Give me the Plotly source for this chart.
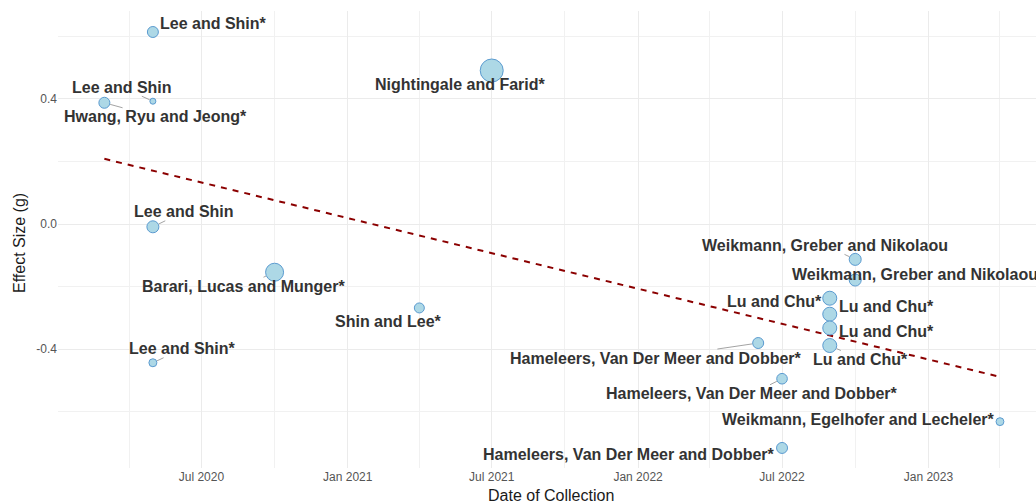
import math
import plotly.graph_objects as go

# ---------------- data ----------------
study_labels = [
    "Lee and Shin*", "Lee and Shin", "Hwang, Ryu and Jeong*", "Nightingale and Farid*",
    "Lee and Shin", "Barari, Lucas and Munger*", "Shin and Lee*", "Lee and Shin*",
    "Hameleers, Van Der Meer and Dobber*", "Hameleers, Van Der Meer and Dobber*",
    "Hameleers, Van Der Meer and Dobber*", "Weikmann, Egelhofer and Lecheler*",
    "Weikmann, Greber and Nikolaou", "Weikmann, Greber and Nikolaou",
    "Lu and Chu*", "Lu and Chu*", "Lu and Chu*", "Lu and Chu*",
]
collection_dates = [
    "2020-05-01", "2020-05-01", "2020-03-01", "2021-07-01",
    "2020-05-01", "2020-10-01", "2021-04-01", "2020-05-01",
    "2022-06-01", "2022-07-01", "2022-07-01", "2023-04-01",
    "2022-10-01", "2022-10-01",
    "2022-08-30", "2022-08-30", "2022-08-30", "2022-08-30",
]
effect_sizes = [
    0.613, 0.392, 0.387, 0.490,
    -0.009, -0.154, -0.268, -0.443,
    -0.380, -0.494, -0.715, -0.631,
    -0.113, -0.179,
    -0.237, -0.288, -0.332, -0.388,
]
weights = [
    144, 49, 144, 576,
    169, 361, 121, 81,
    144, 135, 144, 79,
    169, 169,
    225, 225, 225, 225,
]
trend_dates = ["2020-03-01", "2023-04-01"]
trend_values = [0.208, -0.488]

x_tick_labels = ["Jul 2020", "Jan 2021", "Jul 2021", "Jan 2022", "Jul 2022", "Jan 2023"]
x_tick_dates = ["2020-07-01", "2021-01-01", "2021-07-01", "2022-01-01", "2022-07-01", "2023-01-01"]
y_tick_values = [-0.4, 0.0, 0.4]
y_tick_labels = ["-0.4", "0.0", "0.4"]

# label placement (pixel offset of text centre from its point, and whether a segment is drawn)
label_offsets = [
    (61, -8, False), (-31, -14, True), (51, 14, True), (-31, 14, True),
    (31, -15, True), (-31, 14, True), (-31, 14, True), (30, -14, True),
    (-102, 15, True), (-30, 15, True), (-153, 7, False), (-141, -2, False),
    (-30, -14, True), (60, -6, False),
    (-55, 3, False), (57, -8, False), (57, 4, False), (31, 14, True),
]

# ---------------- figure ----------------
FONT = "Liberation Sans, Arial, sans-serif"
diam = [math.sqrt(w) for w in weights]

fig = go.Figure()
fig.add_trace(go.Scatter(
    x=trend_dates, y=trend_values, mode="lines",
    line=dict(color="#8B0000", width=2, dash="6px,6px"),
    hoverinfo="skip", showlegend=False,
))
fig.add_trace(go.Scatter(
    x=collection_dates, y=effect_sizes, mode="markers",
    marker=dict(size=[d - 1 for d in diam], color="#ADD8E6", opacity=1,
                line=dict(color="#5B9BD0", width=1)),
    text=study_labels, hoverinfo="text+x+y", showlegend=False,
))

annotations = []
for lab, xd, yv, d, (ox, oy, seg) in zip(study_labels, collection_dates, effect_sizes, diam, label_offsets):
    base = dict(x=xd, y=yv, xref="x", yref="y", text="<b>" + lab + "</b>",
                font=dict(family=FONT, size=16, color="#333333"))
    if seg:
        base.update(showarrow=True, ax=ox, ay=oy, arrowhead=0, arrowwidth=0.8,
                    arrowcolor="#8c8c8c", standoff=d / 2, borderpad=0)
    else:
        base.update(showarrow=False, xshift=ox, yshift=-oy,
                    xanchor="center", yanchor="middle")
    annotations.append(base)

annotations.append(dict(text="Date of Collection", xref="paper", yref="paper",
                        x=0.5039, y=0, yshift=-27, xanchor="center", yanchor="middle",
                        showarrow=False, font=dict(family=FONT, size=16, color="#1a1a1a")))
annotations.append(dict(text="Effect Size (g)", xref="paper", yref="paper",
                        x=0, y=0.4923, xshift=-39, xanchor="center", yanchor="middle",
                        textangle=-90, showarrow=False,
                        font=dict(family=FONT, size=16, color="#1a1a1a")))

fig.update_layout(
    width=1036, height=504,
    margin=dict(l=58, r=0, t=11, b=36),
    plot_bgcolor="white", paper_bgcolor="white",
    annotations=annotations,
    xaxis=dict(
        type="date", range=["2020-01-02 17:00", "2023-05-16 07:00"],
        tickvals=x_tick_dates, ticktext=x_tick_labels,
        showgrid=True, gridcolor="#EBEBEB", gridwidth=1,
        minor=dict(dtick="M3", tick0="2020-01-01", showgrid=True,
                   gridcolor="#F1F1F1", gridwidth=1),
        zeroline=False, showline=False, ticks="", automargin=False,
        tickfont=dict(family=FONT, size=12, color="#555555"),
    ),
    yaxis=dict(
        range=[-0.779, 0.680],
        tickvals=y_tick_values, ticktext=y_tick_labels,
        showgrid=True, gridcolor="#EBEBEB", gridwidth=1,
        minor=dict(dtick=0.2, tick0=0, showgrid=True, gridcolor="#F1F1F1", gridwidth=1),
        zeroline=False, showline=False, ticks="", automargin=False,
        tickfont=dict(family=FONT, size=12, color="#555555"),
    ),
)

fig.write_html("out.html", config={"displayModeBar": False},
               post_script="document.body.style.margin='0px';")
